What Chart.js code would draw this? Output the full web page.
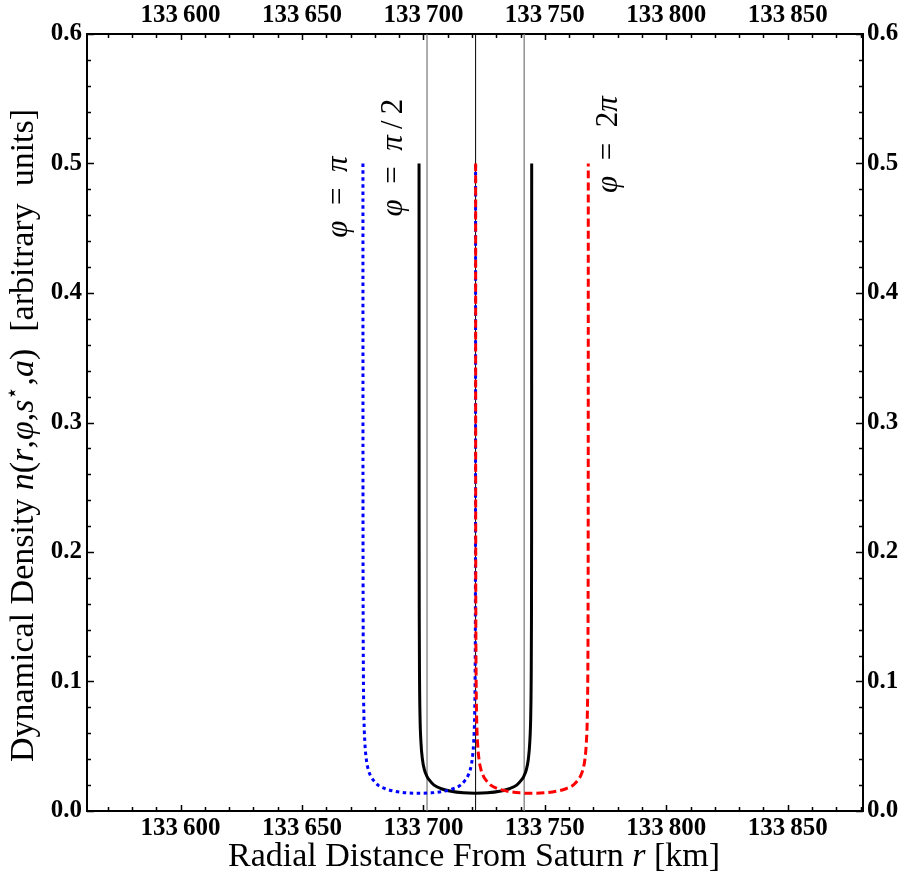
<!DOCTYPE html>
<html>
<head>
<meta charset="utf-8">
<script src="https://cdn.jsdelivr.net/npm/chart.js@4.4.1/dist/chart.umd.min.js"></script>
<style>
  html, body { margin: 0; padding: 0; background: #fff; }
  #wrap { width: 904px; height: 879px; }
</style>
</head>
<body>
<div id="wrap"><canvas id="densityChart" width="904" height="879"></canvas></div>
<script>
// Radial distance r [km] and density n for the three phase angles
const rPhiPi = [133675.11, 133675.12, 133675.15, 133675.2, 133675.3, 133675.5, 133675.9, 133676.5, 133677.3, 133678.3, 133679.3, 133681.3, 133684.3, 133688.3, 133693.3, 133698.3, 133703.3, 133708.3, 133712.3, 133715.3, 133717.3, 133718.3, 133719.3, 133720.1, 133720.7, 133721.1, 133721.3, 133721.4, 133721.45, 133721.48, 133721.49];
const nPhiPi = [0.5, 0.33, 0.209, 0.148, 0.105, 0.074, 0.053, 0.040, 0.032, 0.027, 0.024, 0.020, 0.0172, 0.0152, 0.0140, 0.0137, 0.0140, 0.0152, 0.0172, 0.020, 0.024, 0.027, 0.032, 0.040, 0.053, 0.074, 0.105, 0.148, 0.209, 0.33, 0.5];

const rPhiHalfPi = [133698.21, 133698.22, 133698.25, 133698.3, 133698.4, 133698.6, 133699.0, 133699.6, 133700.4, 133701.4, 133702.4, 133704.4, 133707.4, 133711.4, 133716.4, 133721.4, 133726.4, 133731.4, 133735.4, 133738.4, 133740.4, 133741.4, 133742.4, 133743.2, 133743.8, 133744.2, 133744.4, 133744.5, 133744.55, 133744.58, 133744.59];
const nPhiHalfPi = [0.5, 0.33, 0.209, 0.148, 0.105, 0.074, 0.053, 0.040, 0.032, 0.027, 0.024, 0.020, 0.0172, 0.0152, 0.0140, 0.0137, 0.0140, 0.0152, 0.0172, 0.020, 0.024, 0.027, 0.032, 0.040, 0.053, 0.074, 0.105, 0.148, 0.209, 0.33, 0.5];

const rPhiTwoPi = [133721.51, 133721.52, 133721.55, 133721.6, 133721.7, 133721.9, 133722.3, 133722.9, 133723.7, 133724.7, 133725.7, 133727.7, 133730.7, 133734.7, 133739.7, 133744.7, 133749.7, 133754.7, 133758.7, 133761.7, 133763.7, 133764.7, 133765.7, 133766.5, 133767.1, 133767.5, 133767.7, 133767.8, 133767.85, 133767.88, 133767.89];
const nPhiTwoPi = [0.5, 0.33, 0.209, 0.148, 0.105, 0.074, 0.053, 0.040, 0.032, 0.027, 0.024, 0.020, 0.0172, 0.0152, 0.0140, 0.0137, 0.0140, 0.0152, 0.0172, 0.020, 0.024, 0.027, 0.032, 0.040, 0.053, 0.074, 0.105, 0.148, 0.209, 0.33, 0.5];

// vertical guide lines (edges and centre of the ringlet)
const guideEdges = [133701.5, 133741.5];
const guideCentre = [133721.5];

// axis ranges and labelled ticks
const xRange = [133561.5, 133881];
const yRange = [0, 0.6];
const xTicks = [133600, 133650, 133700, 133750, 133800, 133850];
const yTicks = [0, 0.1, 0.2, 0.3, 0.4, 0.5, 0.6];

const SERIF = '"Liberation Serif", "Times New Roman", serif';
const tickFont = { family: SERIF, size: 25, weight: 'bold' };

const toPoints = (rs, ns) => rs.map((r, i) => ({ x: r, y: ns[i] }));
const vLine = r => [{ x: r, y: yRange[0] }, { x: r, y: yRange[1] }];
const fmtKm = v => {
  const s = String(Math.round(v));
  return s.slice(0, 3) + '\u2009' + s.slice(3);
};

// rich text pieces: [text, style] with style n (normal), i (italic), s (superscript)
function drawRich(ctx, parts, size, align) {
  const fontFor = p => (p[1] === 'i' ? 'italic ' : '') + (p[1] === 's' ? Math.round(size * 0.65) : size) + 'px ' + SERIF;
  let total = 0;
  parts.forEach(p => { ctx.font = fontFor(p); total += ctx.measureText(p[0]).width; });
  let x = align === 'center' ? -total / 2 : 0;
  parts.forEach(p => {
    ctx.font = fontFor(p);
    ctx.fillText(p[0], x, p[1] === 's' ? -size * 0.42 : 0);
    x += ctx.measureText(p[0]).width;
  });
}

const yTitle = [
  ['Dynamical Density ', 'n'], ['n', 'i'], ['(', 'n'], ['r', 'i'], [',', 'n'], ['\u03C6', 'i'],
  [',', 'n'], ['s', 'i'], ['\u22C6', 's'], [',', 'n'], ['a', 'i'], [')', 'n'], ['  [arbitrary  units]', 'n']
];
const xTitle = [['Radial Distance From Saturn ', 'n'], ['r', 'i'], [' [km]', 'n']];

const curveLabels = [
  { parts: [['\u03C6', 'i'], ['  =  ', 'n'], ['\u03C0', 'i']], r: 133668.6, n: 0.474 },
  { parts: [['\u03C6', 'i'], ['  =  ', 'n'], ['\u03C0', 'i'], ['\u2009/\u20092', 'n']], r: 133691.2, n: 0.5046 },
  { parts: [['\u03C6', 'i'], ['  =  2', 'n'], ['\u03C0', 'i']], r: 133779.7, n: 0.5146 }
];

// inward tick marks on all four sides, titles and curve annotations
const framePlugin = {
  id: 'frame',
  afterDraw(chart) {
    const ctx = chart.ctx;
    const { left, right, top, bottom } = chart.chartArea;
    const xs = chart.scales.x, ys = chart.scales.y;
    const xMinor = [], yMinor = [];
    for (let v = 133570; v <= xRange[1]; v += 10) if (v % 50 !== 0) xMinor.push(v);
    for (let k = 1; k < 30; k++) if (k % 5 !== 0) yMinor.push(k * 0.02);

    ctx.save();
    ctx.strokeStyle = '#000';
    ctx.lineWidth = 1.5;
    ctx.beginPath();
    const xMark = (v, len) => {
      const px = Math.round(xs.getPixelForValue(v)) + 0.5;
      ctx.moveTo(px, bottom); ctx.lineTo(px, bottom - len);
      ctx.moveTo(px, top); ctx.lineTo(px, top + len);
    };
    const yMark = (v, len) => {
      const py = Math.round(ys.getPixelForValue(v)) + 0.5;
      ctx.moveTo(left, py); ctx.lineTo(left + len, py);
      ctx.moveTo(right, py); ctx.lineTo(right - len, py);
    };
    xTicks.forEach(v => xMark(v, 6));
    xMinor.forEach(v => xMark(v, 4));
    yTicks.forEach(v => yMark(v, 7));
    yMinor.forEach(v => yMark(v, 4));
    ctx.stroke();

    ctx.fillStyle = '#000';
    ctx.textBaseline = 'alphabetic';
    ctx.textAlign = 'left';

    // axis titles
    ctx.save();
    ctx.translate((left + right) / 2 - 1, 866);
    drawRich(ctx, xTitle, 34, 'center');
    ctx.restore();

    ctx.save();
    ctx.translate(33, (top + bottom) / 2 + 13);
    ctx.rotate(-Math.PI / 2);
    drawRich(ctx, yTitle, 34, 'center');
    ctx.restore();

    // phase-angle annotations, rotated along the curves
    curveLabels.forEach(l => {
      ctx.save();
      ctx.translate(xs.getPixelForValue(l.r), ys.getPixelForValue(l.n));
      ctx.rotate(-Math.PI / 2);
      drawRich(ctx, l.parts, 31, 'center');
      ctx.restore();
    });
    ctx.restore();
  }
};

const lineBase = { pointRadius: 0, fill: false, cubicInterpolationMode: 'monotone', borderCapStyle: 'butt' };

new Chart(document.getElementById('densityChart'), {
  type: 'line',
  data: {
    datasets: [
      { ...lineBase, label: 'phi = 2pi', data: toPoints(rPhiTwoPi, nPhiTwoPi), borderColor: '#ff0000', borderWidth: 3, borderDash: [8, 4] },
      { ...lineBase, label: 'phi = pi', data: toPoints(rPhiPi, nPhiPi), borderColor: '#0000ff', borderWidth: 3, borderDash: [3.5, 3.5] },
      { ...lineBase, label: 'phi = pi/2', data: toPoints(rPhiHalfPi, nPhiHalfPi), borderColor: '#000000', borderWidth: 3 },
      { ...lineBase, label: 'centre', data: vLine(guideCentre[0]), borderColor: '#000000', borderWidth: 1, cubicInterpolationMode: 'default' },
      { ...lineBase, label: 'inner edge', data: vLine(guideEdges[0]), borderColor: '#808080', borderWidth: 1.3, cubicInterpolationMode: 'default' },
      { ...lineBase, label: 'outer edge', data: vLine(guideEdges[1]), borderColor: '#808080', borderWidth: 1.3, cubicInterpolationMode: 'default' }
    ]
  },
  options: {
    responsive: false,
    devicePixelRatio: 1,
    animation: false,
    layout: { padding: 0 },
    plugins: { legend: { display: false }, tooltip: { enabled: false } },
    scales: {
      x: {
        type: 'linear', position: 'bottom', min: xRange[0], max: xRange[1],
        afterBuildTicks: s => { s.ticks = xTicks.map(v => ({ value: v })); },
        afterFit: s => { s.height = 68; },
        grid: { display: false, drawTicks: false },
        border: { display: true, color: '#000', width: 2 },
        ticks: { font: tickFont, color: '#000', padding: 3, maxRotation: 0, autoSkip: false, callback: v => fmtKm(v) }
      },
      x2: {
        type: 'linear', position: 'top', min: xRange[0], max: xRange[1],
        afterBuildTicks: s => { s.ticks = xTicks.map(v => ({ value: v })); },
        afterFit: s => { s.height = 34; },
        grid: { display: false, drawTicks: false },
        border: { display: true, color: '#000', width: 2 },
        ticks: { font: tickFont, color: '#000', padding: 3, maxRotation: 0, autoSkip: false, callback: v => fmtKm(v) }
      },
      y: {
        type: 'linear', position: 'left', min: yRange[0], max: yRange[1],
        afterBuildTicks: s => { s.ticks = yTicks.map(v => ({ value: v })); },
        afterFit: s => { s.width = 87; },
        grid: { display: false, drawTicks: false },
        border: { display: true, color: '#000', width: 2 },
        ticks: { font: tickFont, color: '#000', padding: 5, callback: v => v.toFixed(1) }
      },
      y2: {
        type: 'linear', position: 'right', min: yRange[0], max: yRange[1],
        afterBuildTicks: s => { s.ticks = yTicks.map(v => ({ value: v })); },
        afterFit: s => { s.width = 41; },
        grid: { display: false, drawTicks: false },
        border: { display: true, color: '#000', width: 2 },
        ticks: { font: tickFont, color: '#000', padding: 4, callback: v => v.toFixed(1) }
      }
    }
  },
  plugins: [framePlugin]
});
</script>
</body>
</html>
